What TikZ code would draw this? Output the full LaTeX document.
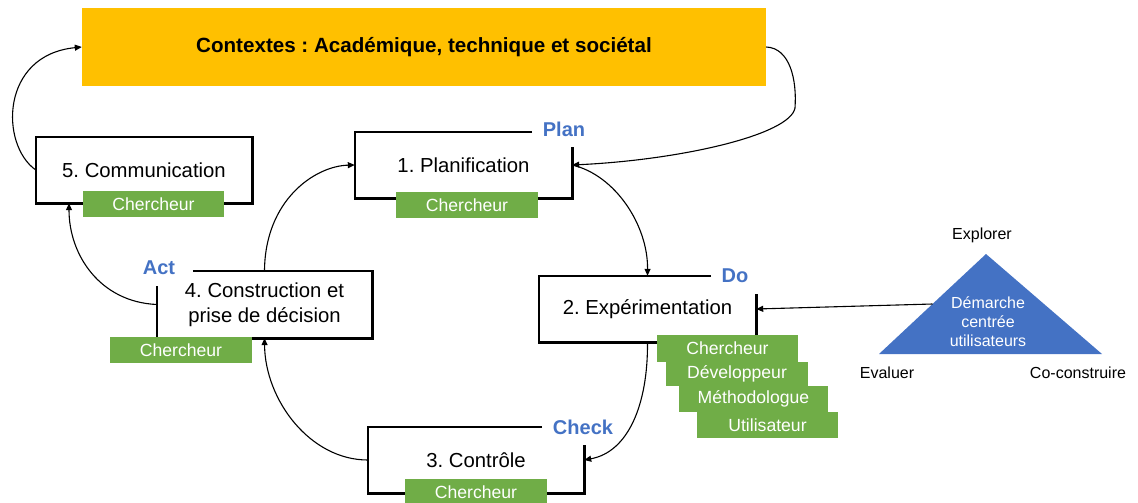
\documentclass[tikz,border=0pt]{standalone}
\usepackage{fontspec}
\setmainfont{Liberation Sans}
\usetikzlibrary{arrows.meta,calc}
\definecolor{ctxyellow}{HTML}{FFC000}
\definecolor{rolegreen}{HTML}{70AD47}
\definecolor{pdcablue}{HTML}{4472C4}
\frenchspacing
\begin{document}
\begin{tikzpicture}[x=1pt,y=-1pt,
  stagebox/.style={minimum width=217pt, minimum height=66pt, inner sep=0pt, font=\fontsize{20.3}{25}\selectfont, align=center},
  boxline/.style={line width=2.6pt, line join=miter},
  role/.style={fill=rolegreen, text=white, minimum width=142pt, minimum height=26pt, inner sep=0pt, font=\fontsize{17.6}{20}\selectfont},
  pdca/.style={text=pdcablue, font=\bfseries\fontsize{20}{24}\selectfont, inner sep=0pt},
  conn/.style={line width=1.1pt, -{Triangle[length=7pt,width=6pt]}},
  cornerlbl/.style={font=\fontsize{16}{19}\selectfont, inner sep=0pt}
]
\useasboundingbox (0,0) rectangle (1138,503);

% context banner
\node[fill=ctxyellow, minimum width=684pt, minimum height=78pt, inner sep=0pt,
      font=\bfseries\fontsize{20.6}{24}\selectfont] (ctx) at (424,47) {Contextes : Académique, technique et sociétal};

% stage boxes
\node[stagebox] (b1) at (463.5,165) {1. Planification};
\node[stagebox] (b2) at (647.5,309) {2. Expérimentation};
\node[stagebox, minimum width=216pt] (b3) at (476,460) {3. Contrôle};
\node[stagebox, minimum width=215pt, minimum height=67pt] (b4) at (264.5,304.5) {4. Construction et\\prise de décision};
\node[stagebox, minimum width=216pt] (b5) at (144,170) {5. Communication};

% outlines with corner gaps
\draw[boxline] ([xshift=-40pt]b1.north east) -- (b1.north west) -- (b1.south west) -- (b1.south east) -- ([yshift=-15pt]b1.north east);
\draw[boxline] ([xshift=-45pt]b2.north east) -- (b2.north west) -- (b2.south west) -- (b2.south east) -- ([yshift=-18pt]b2.north east);
\draw[boxline] ([xshift=-42pt]b3.north east) -- (b3.north west) -- (b3.south west) -- (b3.south east) -- ([yshift=-18pt]b3.north east);
\draw[boxline] ([xshift=36pt]b4.north west) -- (b4.north east) -- (b4.south east) -- (b4.south west) -- ([yshift=-15pt]b4.north west);
\draw[boxline] (b5.north west) rectangle (b5.south east);

% PDCA labels
\node[pdca] (lplan) at (564,129) {Plan};
\node[pdca] (ldo) at (735,276) {Do};
\node[pdca] (lcheck) at (583,427) {Check};
\node[pdca] (lact) at (159,268) {Act};

% role labels
\node[role] (r1) at (467,205) {Chercheur};
\node[role, minimum width=141pt] (r5) at (153.5,204) {Chercheur};
\node[role] (r4) at (181,350) {Chercheur};
\node[role] (r3) at (476,492) {Chercheur};
\node[role, minimum width=141pt, minimum height=27pt] (r2a) at (727.5,348.5) {Chercheur};
\node[role, minimum width=142pt, minimum height=24pt] (r2b) at (737,374) {Développeur};
\node[role, minimum width=149pt, minimum height=26pt] (r2c) at (753.5,399) {Méthodologue};
\node[role, minimum width=141pt, minimum height=26pt] (r2d) at (767.5,425) {Utilisateur};

% user-centred triangle
\coordinate (tapex) at (986,254);
\coordinate (tleft) at (879,354);
\coordinate (tright) at (1102,354);
\fill[pdcablue] (tapex) -- (tleft) -- (tright) -- cycle;
\coordinate (tedge) at ($(tleft)!0.5!(tapex)$);
\node[text=white, align=center, inner sep=0pt, font=\fontsize{16}{19}\selectfont] (tri) at (988,322) {Démarche\\centrée\\utilisateurs};
\node[cornerlbl] (explorer) at (982,235) {Explorer};
\node[cornerlbl] (evaluer) at (887,373) {Evaluer};
\node[cornerlbl] (cocons) at (1078,373) {Co-construire};

% connectors
\draw[conn] (ctx.east) .. controls (790,48) and (797,80) .. (795,108)
            .. controls (790,135) and (680,160) .. (b1.east);
\draw[conn] (b1.east) .. controls (615,175) and (648,225) .. (b2.north);
\draw[conn] (b2.south) .. controls (648,405) and (628,452) .. (b3.east);
\draw[conn] (b3.west) .. controls (310,460) and (265,400) .. (b4.south);
\draw[conn] (b4.north) .. controls (265,200) and (315,166) .. (b1.west);
\draw[conn] (b4.west) .. controls (100,302) and (69,255) .. ([xshift=-75pt]b5.south);
\draw[conn] (b5.west) .. controls (0,145) and (0,55) .. (ctx.west);
\draw[conn] (tedge) -- (b2.east);
\end{tikzpicture}
\end{document}
